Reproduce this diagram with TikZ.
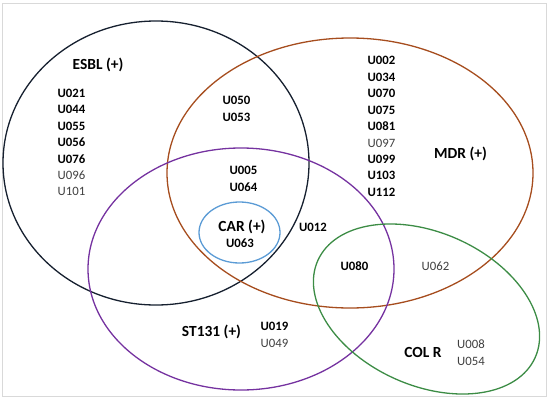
\documentclass[tikz,border=0pt]{standalone}
\usepackage{fontspec}
\setmainfont{Carlito}
\usepackage{xcolor}
\usepackage{tikz}
\definecolor{esblcol}{HTML}{16202F}
\definecolor{mdrcol}{HTML}{A64D1E}
\definecolor{stcol}{HTML}{7532A0}
\definecolor{carcol}{HTML}{5B9BD5}
\definecolor{colrcol}{HTML}{3C8C45}
\definecolor{framecol}{HTML}{D9D9D9}
\definecolor{softtext}{HTML}{404040}
\newcommand{\lightid}[1]{{\mdseries\color{softtext}#1}}

\begin{document}
\begin{tikzpicture}[x=1bp, y=1bp, line width=1.3bp,
            setname/.style={font=\fontsize{15.5}{18}\selectfont\bfseries, inner sep=0pt},
            ids/.style={font=\fontsize{12.8}{16.5}\selectfont\bfseries, align=left, inner sep=0pt}]
            \useasboundingbox (0,0) rectangle (550,399);
            \draw[framecol, line width=0.8bp] (2.5,3) rectangle (546,395.5);

            \draw[esblcol] (156,236) ellipse (153 and 142);
            \draw[mdrcol] (350,226) ellipse (183 and 135);
            \draw[stcol] (241,130) ellipse (153 and 121);
            \draw[carcol] (239.5,166.5) ellipse (40.5 and 30.5);
            \draw[colrcol, rotate around={-24:(426.5,90)}] (426.5,90) ellipse (119 and 76.5);

            \node[setname] (esbl) at (98,334) {ESBL (+)};
            \node[ids, anchor=west] (esblids) at (57,256.5) {U021\\ U044\\ U055\\ U056\\ U076\\ \lightid{U096}\\ \lightid{U101}};
            \node[ids, align=center] (esblmdr) at (236.5,290) {U050\\ U053};
            \node[ids, align=center] (esblmdrst) at (243.5,220) {U005\\ U064};

            \node[setname] (mdr) at (460.5,245) {MDR (+)};
            \node[ids, anchor=west] (mdrids) at (367,272.5) {U002\\ U034\\ U070\\ U075\\ U081\\ \lightid{U097}\\ U099\\ U103\\ U112};

            \node[setname] (car) at (242,172) {CAR (+)};
            \node[ids] (carid) at (240,156) {U063};
            \node[ids] (mdrst) at (313,172) {U012};
            \node[ids] (mdrstcol) at (354.5,133) {U080};
            \node[ids] (mdrcolr) at (435.5,133) {\lightid{U062}};

            \node[setname] (st) at (211.5,67) {ST131 (+)};
            \node[ids, anchor=west] (stids) at (260,64) {U019\\ \lightid{U049}};

            \node[setname] (colr) at (423,47) {COL R};
            \node[ids] (colrids) at (471,46.5) {\lightid{U008}\\ \lightid{U054}};
        \end{tikzpicture}
\end{document}
